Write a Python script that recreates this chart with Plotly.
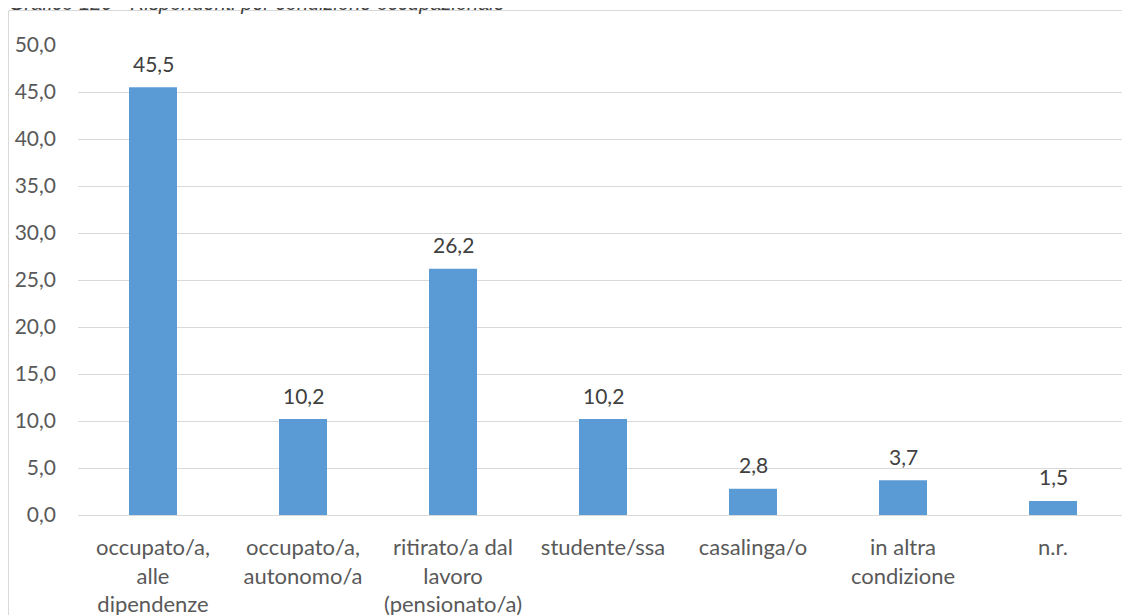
import plotly.graph_objects as go

categories = [
    "occupato/a,<br>alle<br>dipendenze",
    "occupato/a,<br>autonomo/a",
    "ritirato/a dal<br>lavoro<br>(pensionato/a)",
    "studente/ssa",
    "casalinga/o",
    "in altra<br>condizione",
    "n.r.",
]
values = [45.5, 10.2, 26.2, 10.2, 2.8, 3.7, 1.5]
labels = [f"{v:.1f}".replace(".", ",") for v in values]
tick_vals = [0, 5, 10, 15, 20, 25, 30, 35, 40, 45, 50]
tick_text = [f"{v:.1f}".replace(".", ",") for v in tick_vals]
title = "Grafico 120 - Rispondenti per condizione occupazionale"

# page body has an 8px margin: figure pixel = screen pixel - 8
OFF = 8
W, H = 1120, 607
L, R, T, B = 70, 0, 37, 100
pw, ph = W - L - R, H - T - B

def px(sx):
    return (sx - OFF - L) / pw

def py(sy):
    return (H - B - (sy - OFF)) / ph

FONT = "Lato"

fig = go.Figure(go.Bar(
    x=categories, y=values,
    marker=dict(color="#5B9BD5", line=dict(width=0)),
    hoverinfo="x+y",
))

annotations = [
    dict(x=c, y=v, text=t, xref="x", yref="y", showarrow=False,
         yanchor="middle", yshift=24,
         font=dict(family=FONT, size=21, color="#404040"))
    for c, v, t in zip(categories, values, labels)
]
annotations.append(dict(text="<i>" + title + "</i>", xref="paper", yref="paper",
                        x=px(7), y=py(16), xanchor="left", yanchor="bottom",
                        showarrow=False,
                        font=dict(family="Liberation Sans", size=20, color="#404040")))

fig.update_layout(
    width=W, height=H,
    margin=dict(l=L, r=R, t=T, b=B, autoexpand=False),
    paper_bgcolor="white", plot_bgcolor="white",
    bargap=0.68,
    showlegend=False,
    font=dict(family=FONT, size=21, color="#595959"),
    xaxis=dict(showgrid=False, showline=False, ticks="", tickangle=0,
               tickfont=dict(family=FONT, size=22, color="#595959"),
               ticklabelstandoff=17, automargin=False),
    yaxis=dict(range=[0, 50], tickvals=tick_vals, ticktext=tick_text,
               showgrid=True, gridcolor="#D9D9D9", gridwidth=1,
               zeroline=True, zerolinecolor="#D9D9D9", zerolinewidth=1,
               showline=False, ticks="", automargin=False,
               tickfont=dict(family=FONT, size=21, color="#595959"),
               ticklabelstandoff=21),
    shapes=[dict(type="rect", xref="paper", yref="paper",
                 x0=px(8.5), x1=px(1150), y0=py(640), y1=py(10.5),
                 line=dict(color="#D9D9D9", width=1), fillcolor="rgba(0,0,0,0)",
                 layer="below")],
    annotations=annotations,
)

fig.write_html("out.html")
